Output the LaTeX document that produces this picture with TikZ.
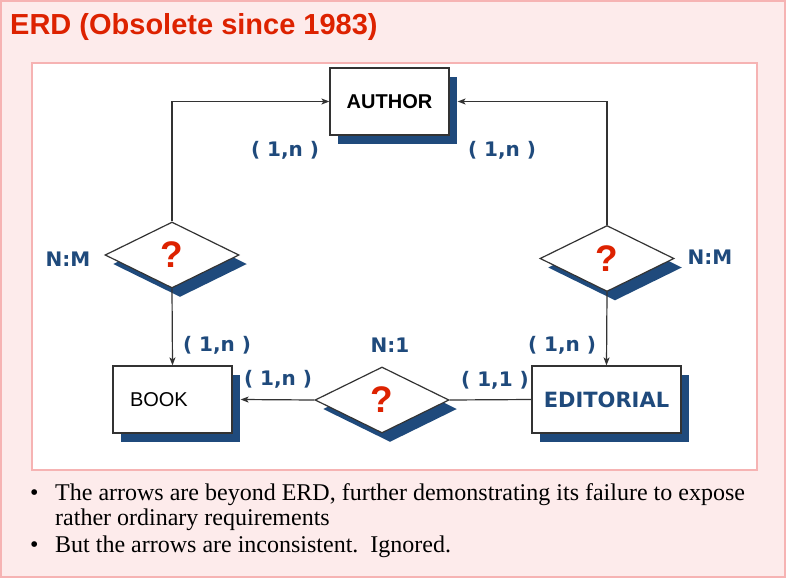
\documentclass[tikz,border=0pt]{standalone}
\usepackage{fontspec}
\setmainfont{Liberation Serif}
\setsansfont{Liberation Sans}
\newfontfamily\cardfont{DejaVu Sans}
\usetikzlibrary{positioning,shapes.geometric,shadows,arrows.meta}
\definecolor{slidebg}{HTML}{FDEBEB}
\definecolor{slideline}{HTML}{F6B3B3}
\definecolor{titlered}{HTML}{DD2200}
\definecolor{erdnavy}{HTML}{1F4A7C}
\definecolor{linegray}{HTML}{333333}

\begin{document}
\begin{tikzpicture}[x=1pt,y=-1pt,
  entity/.style={draw=linegray,line width=1.2pt,fill=white,minimum height=67pt,
    inner sep=0pt,
    drop shadow={fill=erdnavy,opacity=1,shadow xshift=8pt,shadow yshift=-9pt}},
  reln/.style={diamond,draw=linegray,line width=1.2pt,fill=white,aspect=2,
    minimum width=134pt,minimum height=66pt,inner sep=0pt,
    text=titlered,font=\sffamily\bfseries\fontsize{37}{37}\selectfont,
    drop shadow={fill=erdnavy,opacity=1,shadow xshift=8pt,shadow yshift=-9pt}},
  card/.style={text=erdnavy,inner sep=0pt,font=\cardfont\bfseries\fontsize{20}{20}\selectfont},
  link/.style={draw=linegray,line width=1.2pt,-{Stealth[length=8pt,width=6pt,inset=2pt]}},
  plain/.style={draw=linegray,line width=1.2pt},
  bullettext/.style={anchor=base west,inner sep=0pt,font=\fontsize{24}{24}\selectfont}]

% slide background
\useasboundingbox (0,0) rectangle (786,578);
\filldraw[fill=slidebg,draw=slideline,line width=1.5pt] (1,1) rectangle (785,577);
\filldraw[fill=white,draw=slideline,line width=1.2pt] (32,63) rectangle (757,470);
\node[anchor=base west,inner sep=0pt,text=titlered,
  font=\sffamily\bfseries\fontsize{29}{29}\selectfont] (title) at (10,35)
  {ERD (Obsolete since 1983)};

% entities
\node[entity,minimum width=119pt,font=\sffamily\bfseries\fontsize{20}{20}\selectfont]
  (author) at (389.5,101.5) {AUTHOR};
\node[entity,minimum width=119pt,text width=85pt,align=left,inner xsep=17pt,
  font=\sffamily\fontsize{20}{20}\selectfont]
  (book) at (172.5,399.5) {BOOK};
\node[entity,minimum width=149pt,text=erdnavy,font=\cardfont\bfseries\fontsize{21}{21}\selectfont]
  (editorial) at (606.5,399.5) {EDITORIAL};

% relationships
\node[reln] (writes) at (172,255) {?};
\node[reln] (edits) at (607,258.5) {?};
\node[reln] (publishes) at (382,400) {?};

% connectors
\coordinate (authorshadow) at ([xshift=8pt]author.east);
\coordinate (bookshadow) at ([xshift=8pt]book.east);
\draw[link] (writes.north) |- (author.west);
\draw[link] (edits.north) |- (authorshadow);
\draw[link] (writes.south) -- (book.north);
\draw[link] (edits.south) -- (editorial.north);
\draw[link] (publishes.west) -- (bookshadow);
\draw[plain] (publishes.east) -- (editorial.west);

% cardinalities
\node[card] (c1) at (285,150) {( 1,n )};
\node[card] (c2) at (502,150) {( 1,n )};
\node[card] (nm1) at (68,259) {N:M};
\node[card] (nm2) at (710,257) {N:M};
\node[card] (c3) at (217,345) {( 1,n )};
\node[card] (c4) at (278,379) {( 1,n )};
\node[card] (n1) at (390,345) {N:1};
\node[card] (c5) at (495,380) {( 1,1 )};
\node[card] (c6) at (562,345) {( 1,n )};

% notes
\node[bullettext] (b1) at (30,500) {•};
\node[bullettext] (t1) at (55,500) {The arrows are beyond ERD, further demonstrating its failure to expose};
\node[bullettext] (t2) at (55,525) {rather ordinary requirements};
\node[bullettext] (b2) at (30,552) {•};
\node[bullettext] (t3) at (55,552) {But the arrows are inconsistent.\ \ Ignored.};
\end{tikzpicture}
\end{document}
